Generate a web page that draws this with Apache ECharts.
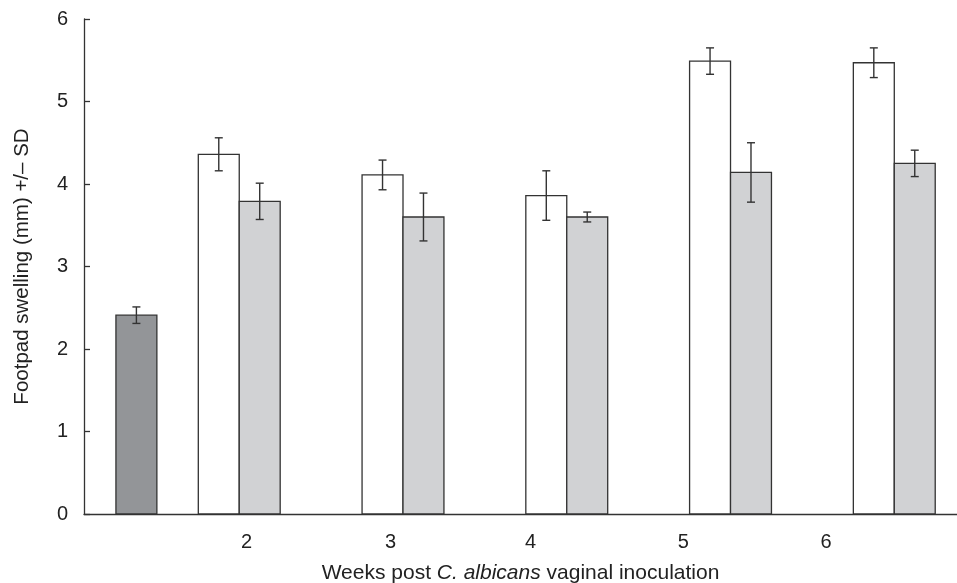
<!DOCTYPE html>
<html>
<head>
<meta charset="utf-8">
<script src="https://cdn.jsdelivr.net/npm/echarts@6/dist/echarts.min.js"></script>
<style>html,body{margin:0;padding:0;background:#fff;}#c{width:957px;height:583px;}</style>
</head>
<body>
<div id="c"></div>
<script>
// ---- data ----
const weekLabels = ['2', '3', '4', '5', '6'];
const weeks = [2, 3, 4, 5, 6];
const infectedMean = [4.36, 4.11, 3.86, 5.49, 5.47];
const infectedSD   = [0.20, 0.18, 0.30, 0.16, 0.18];
const treatedMean  = [3.79, 3.60, 3.60, 4.14, 4.25];
const treatedSD    = [0.22, 0.29, 0.06, 0.36, 0.16];
const controlMean  = [2.41];
const controlSD    = [0.10];
const yTicks = [0, 1, 2, 3, 4, 5, 6];

// ---- layout constants ----
const CONTROL_X = 1.372;
const BAR_W = 0.25;
const X_MIN = 1.052, X_MAX = 6.383;
const LABEL_POS = [2.045, 2.924, 3.779, 4.711, 5.584];
const CAP = 4;
const FONT = '"Liberation Sans", Arial, Helvetica, sans-serif';

function barRender(offset, fill) {
  return function (params, api) {
    const x = api.value(0), y = api.value(1), sd = api.value(2);
    const p0 = api.coord([x + offset, 0]);
    const p1 = api.coord([x + offset + BAR_W, y]);
    const cx = (p0[0] + p1[0]) / 2;
    const top = api.coord([x, y + sd])[1];
    const bot = api.coord([x, y - sd])[1];
    const eStyle = { stroke: '#333', lineWidth: 1.4 };
    return {
      type: 'group',
      children: [
        { type: 'rect', shape: { x: p0[0], y: p1[1], width: p1[0] - p0[0], height: p0[1] - p1[1] },
          style: { fill: fill, stroke: '#333', lineWidth: 1.3 } },
        { type: 'line', shape: { x1: cx, y1: top, x2: cx, y2: bot }, style: eStyle },
        { type: 'line', shape: { x1: cx - CAP, y1: top, x2: cx + CAP, y2: top }, style: eStyle },
        { type: 'line', shape: { x1: cx - CAP, y1: bot, x2: cx + CAP, y2: bot }, style: eStyle }
      ]
    };
  };
}

const chart = echarts.init(document.getElementById('c'), null, { renderer: 'canvas' });
chart.setOption({
  animation: false,
  backgroundColor: '#fff',
  grid: { left: 84, right: 0, top: 19, bottom: 69, containLabel: false, outerBoundsMode: 'none' },
  xAxis: {
    type: 'value', min: X_MIN, max: X_MAX,
    axisLine: { show: true, lineStyle: { color: '#333', width: 1.3 } },
    axisTick: { show: false },
    splitLine: { show: false },
    axisLabel: {
      show: true,
      customValues: LABEL_POS,
      formatter: function (v) {
        let best = 0, d = 1e9;
        LABEL_POS.forEach(function (p, i) { if (Math.abs(p - v) < d) { d = Math.abs(p - v); best = i; } });
        return weekLabels[best];
      },
      fontFamily: FONT, fontSize: 20, color: '#222', margin: 18
    },
    name: 'Weeks post {i|C. albicans} vaginal inoculation',
    nameLocation: 'middle', nameGap: 49,
    nameTextStyle: {
      fontFamily: FONT, fontSize: 21, color: '#222',
      rich: { i: { fontFamily: FONT, fontSize: 21, color: '#222', fontStyle: 'italic' } }
    }
  },
  yAxis: {
    type: 'value', min: yTicks[0], max: yTicks[yTicks.length - 1], interval: 1,
    axisLine: { show: true, lineStyle: { color: '#333', width: 1.3 } },
    axisTick: { show: true, inside: true, length: 6, lineStyle: { color: '#333', width: 1.3 } },
    splitLine: { show: false },
    axisLabel: { fontFamily: FONT, fontSize: 20, color: '#222', margin: 16 },
    name: 'Footpad swelling (mm) +/\u2013 SD',
    nameLocation: 'middle', nameGap: 51,
    nameTextStyle: { fontFamily: FONT, fontSize: 20.5, color: '#222' }
  },
  series: [
    { type: 'custom', name: 'Control', renderItem: barRender(-BAR_W / 2, '#939598'),
      data: controlMean.map(function (m, i) { return [CONTROL_X, m, controlSD[i]]; }) },
    { type: 'custom', name: 'Infected', renderItem: barRender(-BAR_W, '#ffffff'),
      data: weeks.map(function (w, i) { return [w, infectedMean[i], infectedSD[i]]; }) },
    { type: 'custom', name: 'Treated', renderItem: barRender(0, '#d1d2d4'),
      data: weeks.map(function (w, i) { return [w, treatedMean[i], treatedSD[i]]; }) }
  ]
});
</script>
</body>
</html>
